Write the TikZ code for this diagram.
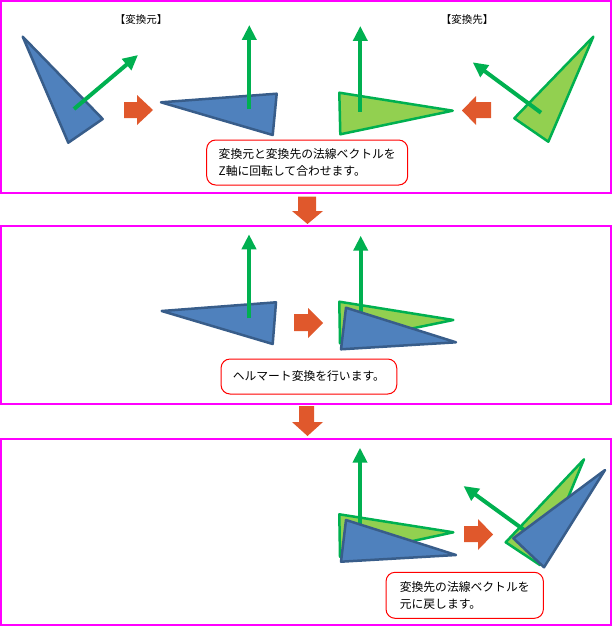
\documentclass[tikz,border=0pt]{standalone}
\usepackage{fontspec}
\setmainfont{Noto Sans CJK JP}
\usetikzlibrary{arrows.meta}
\definecolor{framemag}{RGB}{255,0,255}
\definecolor{arrowred}{RGB}{224,88,44}
\definecolor{vecgreen}{RGB}{0,176,80}
\definecolor{blueface}{RGB}{79,129,189}
\definecolor{blueedge}{RGB}{56,93,138}
\definecolor{greenface}{RGB}{146,208,80}
\tikzset{
	panel/.style={draw=framemag,line width=2pt},
	blockarrow/.style={fill=arrowred},
	srcface/.style={fill=blueface,draw=blueedge,line width=2.5pt,line join=round},
	dstface/.style={fill=greenface,draw=vecgreen,line width=2.5pt,line join=round},
	normal/.style={draw=vecgreen,line width=4pt,-{Triangle[width=14pt,length=15pt]}},
	note/.style={draw=red,line width=1pt,fill=white,rounded corners=9pt,align=left,font=\fontsize{11.8}{17}\selectfont,inner sep=0pt},
	caption/.style={font=\fontsize{10.5}{13}\selectfont}
}
\begin{document}
\begin{tikzpicture}[x=1pt,y=-1pt]
	\useasboundingbox (0,0) rectangle (612,626);
	\draw[panel] (1,1) rectangle (611,192.5);
	\draw[panel] (1,226) rectangle (611,404);
	\draw[panel] (1,439) rectangle (611,624.5);

	\node[caption] (srclabel) at (141,20) {【変換元】};
	\node[caption] (dstlabel) at (467,20) {【変換先】};

	\draw[srcface] (22.7,36.7) -- (102.7,119) -- (68.3,142.7) -- cycle;
	\draw[normal] (74,109) -- (138,55);
	\draw[srcface] (161,102.3) -- (276.7,93.7) -- (272.7,135) -- cycle;
	\draw[normal] (249.3,109) -- (249.3,25);
	\draw[dstface] (339.3,92.7) -- (452.7,110.7) -- (340.3,134.3) -- cycle;
	\draw[normal] (360.3,111.7) -- (360.3,26);
	\draw[dstface] (593.3,36.7) -- (514.3,118.3) -- (548.3,141.7) -- cycle;
	\draw[normal] (541,112.7) -- (472.7,62.3);

	\fill[blockarrow] (124,102) -- (137,102) -- (137,95) -- (153,110) -- (137,125) -- (137,118) -- (124,118) -- cycle;
	\fill[blockarrow] (491,102) -- (476,102) -- (476,96) -- (462,110.5) -- (476,125) -- (476,118) -- (491,118) -- cycle;

	\node[note,minimum width=201pt,minimum height=45pt] (step1) at (307.2,162.5) {変換元と変換先の法線ベクトルを\\Z軸に回転して合わせます。};

	\fill[blockarrow] (298,196.5) -- (316,196.5) -- (316,211) -- (323,211) -- (307.5,224) -- (292,211) -- (298,211) -- cycle;

	\draw[srcface] (161.7,311) -- (276,302.3) -- (272.7,344) -- cycle;
	\draw[normal] (249,318.3) -- (249,234.3);
	\draw[dstface] (339.3,301.7) -- (453.3,320) -- (340,343.3) -- cycle;
	\draw[normal] (360.7,320) -- (360.7,235.7);
	\draw[srcface] (346,307.7) -- (456,342.3) -- (341,349.3) -- cycle;

	\fill[blockarrow] (294,314) -- (308,314) -- (308,308) -- (323,323) -- (308,338) -- (308,331) -- (294,331) -- cycle;

	\node[note,minimum width=175.7pt,minimum height=35pt] (step2) at (308.9,376.5) {ヘルマート変換を行います。};

	\fill[blockarrow] (299,406) -- (314,406) -- (314,422) -- (323,422) -- (307.5,436) -- (292,422) -- (299,422) -- cycle;

	\draw[dstface] (339.3,514.3) -- (453.3,532.3) -- (340,556.7) -- cycle;
	\draw[normal] (360,533) -- (360,447.7);
	\draw[srcface] (346,520) -- (456,555) -- (341,561.7) -- cycle;
	\draw[dstface] (584,459.3) -- (505.7,542.3) -- (540,565) -- cycle;
	\draw[normal] (532,535.7) -- (463.5,486);
	\draw[srcface] (605,470) -- (513.3,538.3) -- (544,567.3) -- cycle;

	\fill[blockarrow] (464,526) -- (478,526) -- (478,519) -- (493,534.5) -- (478,550) -- (478,542) -- (464,542) -- cycle;

	\node[note,minimum width=157.3pt,minimum height=46pt] (step3) at (464.7,595.3) {変換先の法線ベクトルを\\元に戻します。};
\end{tikzpicture}
\end{document}
